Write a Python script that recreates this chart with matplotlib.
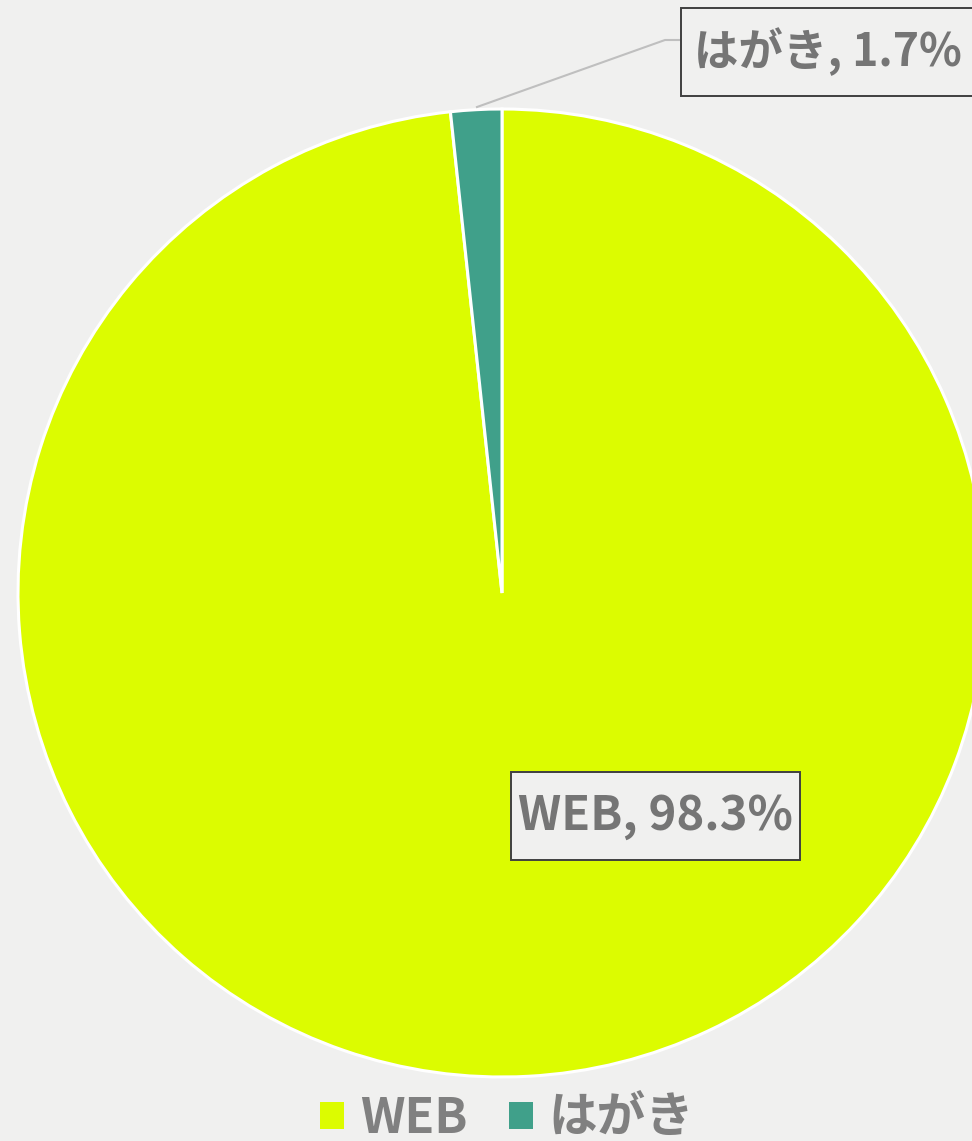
import matplotlib.pyplot as plt
from matplotlib.patches import Rectangle

plt.rcParams['font.family'] = ['Noto Sans CJK JP', 'DejaVu Sans']

categories = ['WEB', 'はがき']
values = [98.3, 1.7]
colors = ['#dcfc00', '#40a08a']

bg = '#f0f0ef'
W, H = 972, 1141

fig = plt.figure(figsize=(W / 100, H / 100), dpi=100, facecolor=bg)
ax = fig.add_axes([0, 0, 1, 1])
ax.set_facecolor(bg)

wedges, _ = ax.pie(values, colors=colors, startangle=90, counterclock=False,
                   center=(502, H - 593), radius=484, frame=True,
                   wedgeprops=dict(edgecolor='white', linewidth=2.2))
ax.set_xlim(0, W)
ax.set_ylim(0, H)
ax.axis('off')

# label boxes (pixel coords, y flipped)
ax.add_patch(Rectangle((511, H - 860), 289, 88, facecolor=bg, edgecolor='#404040',
                       linewidth=1.4, zorder=3))
ax.text(655, H - 816, f'{categories[0]}, {values[0]}%', fontsize=34, fontweight='bold',
        color='#757575', ha='center', va='center', zorder=4)

ax.plot([477, 665, 681], [H - 107, H - 40, H - 40], color='#bfbfbf', linewidth=1.5, zorder=2)
ax.add_patch(Rectangle((681, H - 96), 320, 88, facecolor=bg, edgecolor='#404040',
                       linewidth=1.4, zorder=3, clip_on=True))
ax.text(694, H - 52, f'{categories[1]}, {values[1]}%', fontsize=32, fontweight='bold',
        color='#757575', ha='left', va='center', zorder=4)

leg = ax.legend(wedges, categories, loc='lower center', bbox_to_anchor=(0.522, -0.040),
                ncol=2, frameon=False, labelcolor='#808080',
                handlelength=0.5, handleheight=0.5, handletextpad=0.32, columnspacing=0.85,
                prop=dict(weight='bold', size=35))
for h in leg.legend_handles:
    h.set_edgecolor('none')

fig.savefig('out.png', dpi=100, facecolor=bg)
